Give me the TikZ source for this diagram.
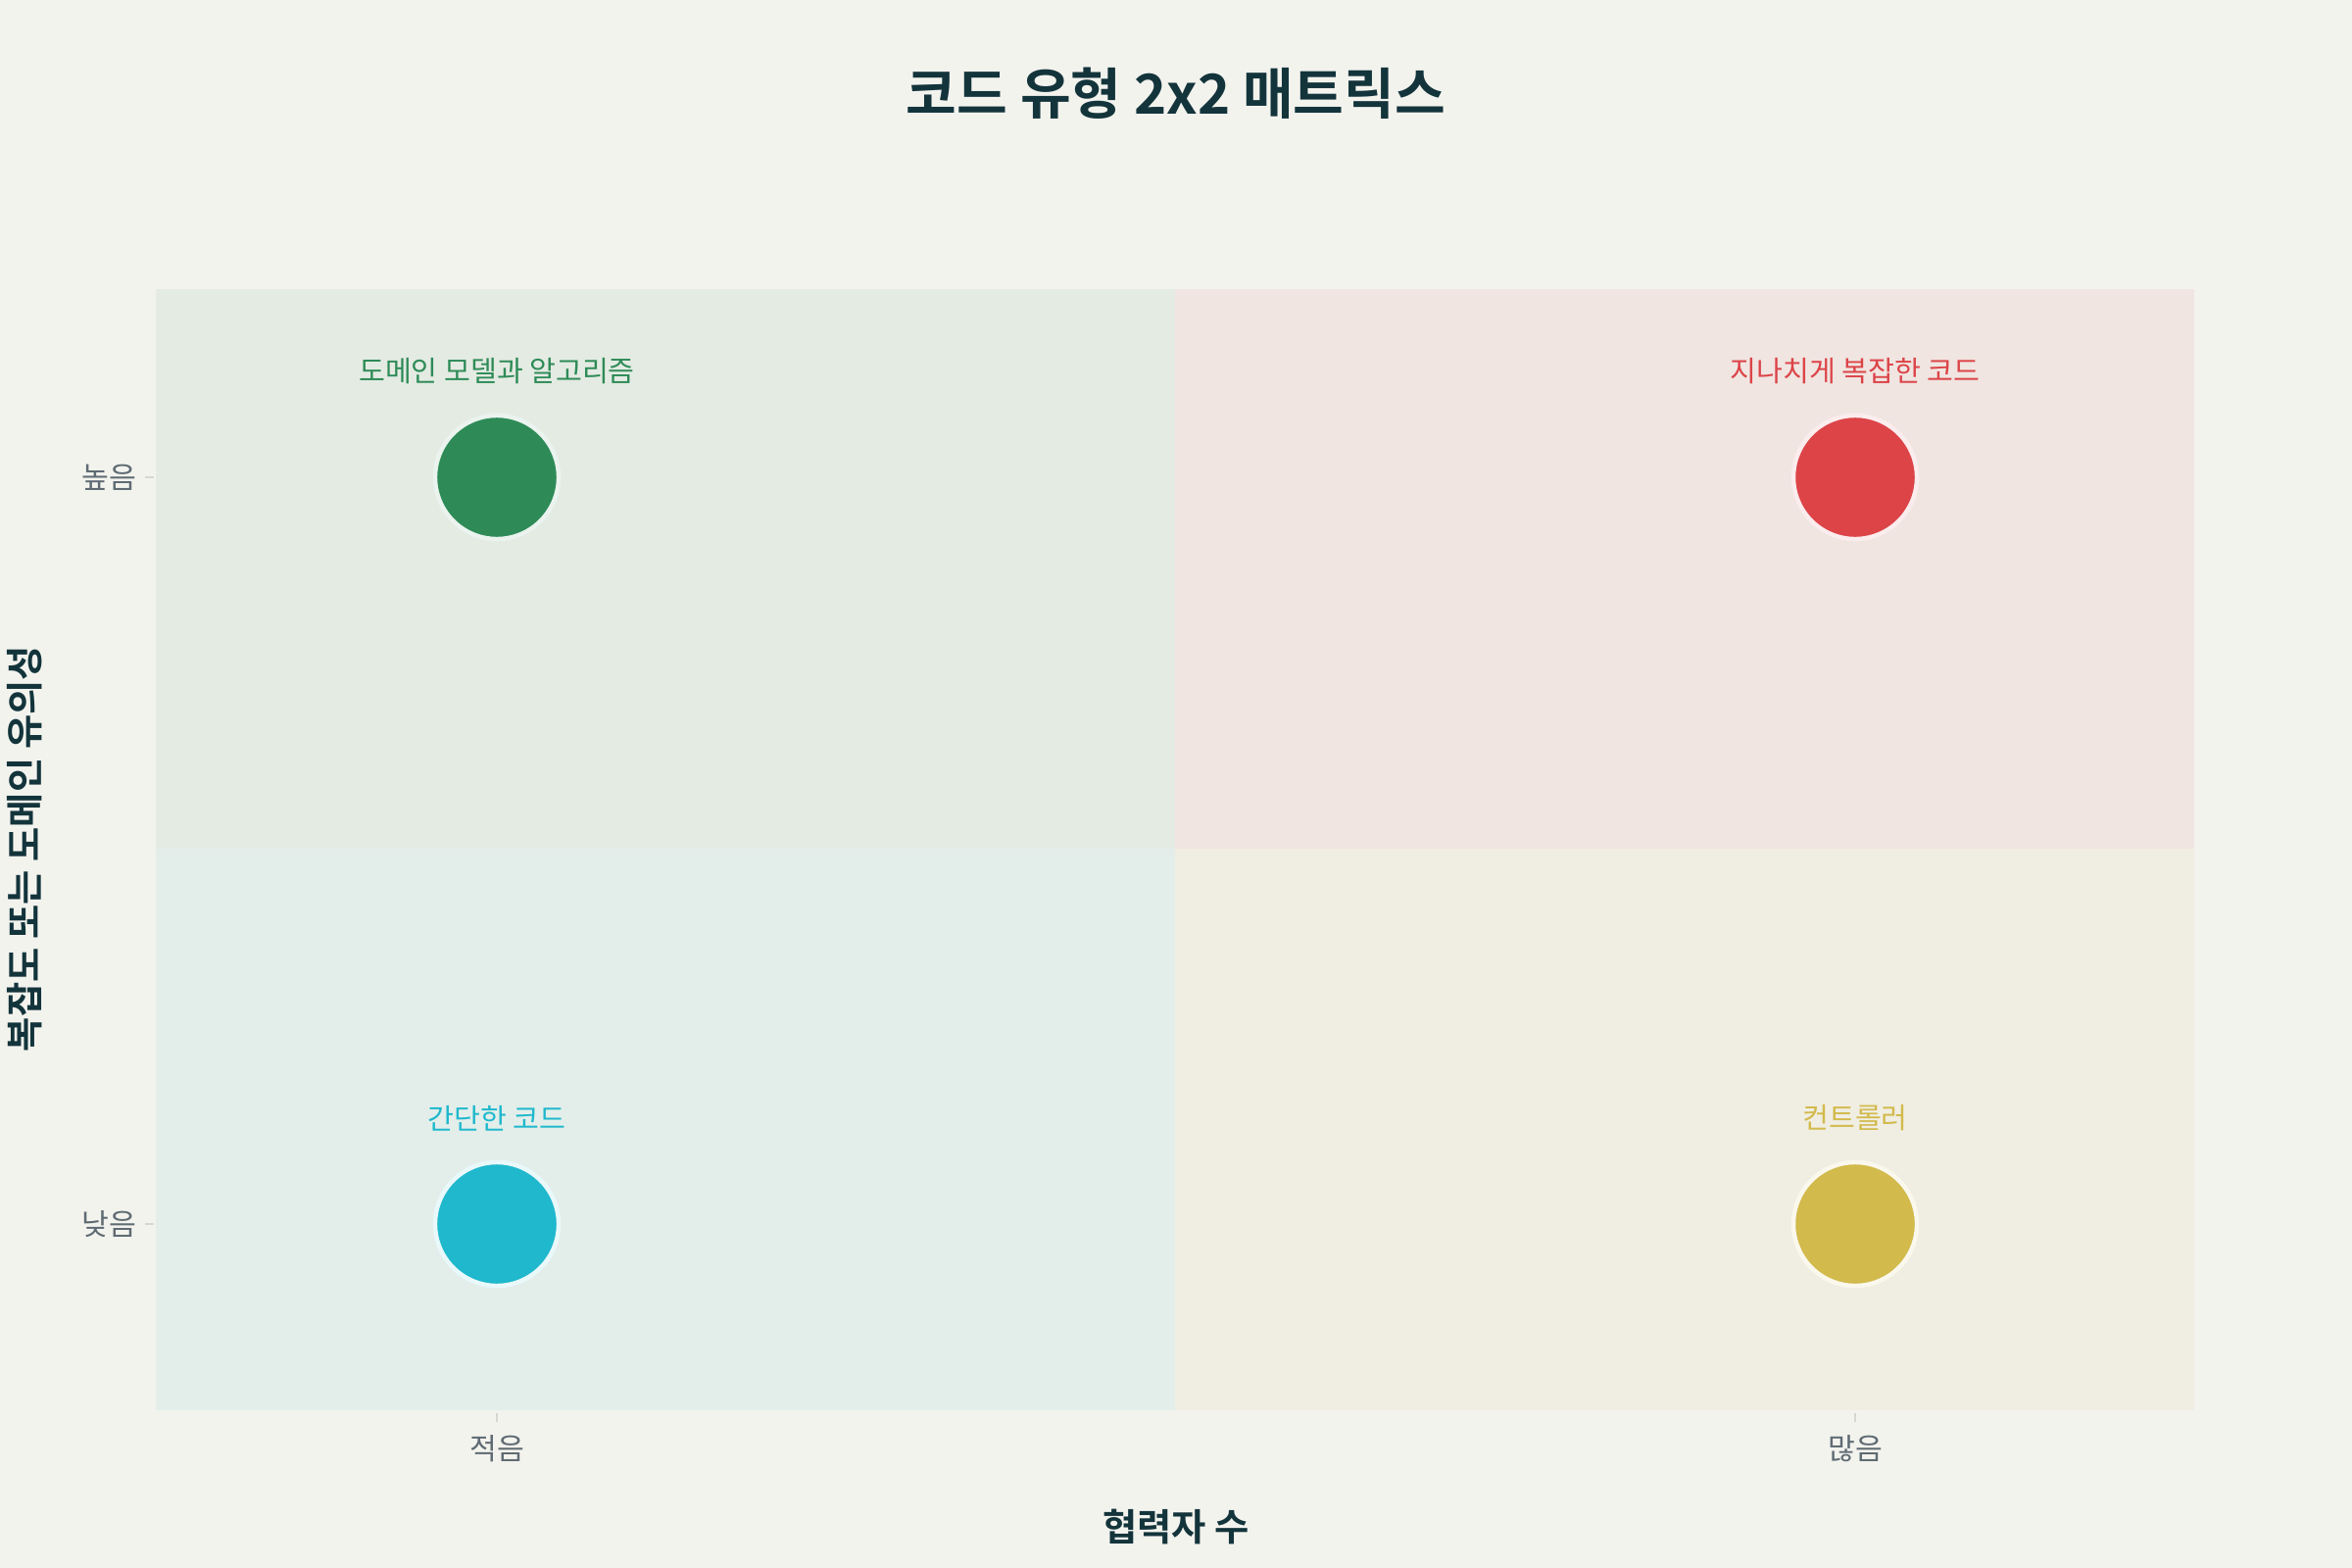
\documentclass[tikz,border=0pt]{standalone}
\usepackage{fontspec}
\setmainfont{Noto Sans CJK KR}
\newfontfamily\krbold{Noto Sans CJK KR Bold}
\begin{document}
\definecolor{bgc}{HTML}{F3F3EE}
\definecolor{qtl}{HTML}{E4EBE3}
\definecolor{qtr}{HTML}{F0E5E1}
\definecolor{qbl}{HTML}{E3EEEA}
\definecolor{qbr}{HTML}{F0EEE2}
\definecolor{ttl}{HTML}{13343B}
\definecolor{tickc}{HTML}{5F6B73}
\definecolor{tickl}{HTML}{D8D6D0}
\definecolor{cgreen}{HTML}{2E8B57}
\definecolor{cred}{HTML}{DC4448}
\definecolor{ccyan}{HTML}{1FB8CD}
\definecolor{cgold}{HTML}{D2BA4C}
\begin{tikzpicture}[x=0.01cm,y=-0.01cm,
  dot/.style={circle,minimum size=1.26cm,inner sep=0pt,draw=white!90!#1,line width=0.045cm,fill=#1},
  lbl/.style={font=\fontsize{8.3}{10}\selectfont,text=#1},
  ticklbl/.style={font=\fontsize{8.6}{10}\selectfont,text=tickc},
  axtitle/.style={font=\krbold\fontsize{10.9}{13}\selectfont,text=ttl},
  tickmark/.style={draw=tickl,line width=0.02cm}]
\useasboundingbox (0,0) rectangle (2400,1600);
\fill[bgc] (0,0) rectangle (2400,1600);
\fill[qtl] (159,295) rectangle (1199,866);
\fill[qtr] (1199,295) rectangle (2239,866);
\fill[qbl] (159,866) rectangle (1199,1439);
\fill[qbr] (1199,866) rectangle (2239,1439);
% title
\node[font=\krbold\fontsize{16}{19}\selectfont,text=ttl] (title) at (1200,95) {코드 유형 2x2 매트릭스};
% ticks
\coordinate (yt1a) at (148,487); \coordinate (yt1b) at (157,487);
\coordinate (yt2a) at (148,1249); \coordinate (yt2b) at (157,1249);
\coordinate (xt1a) at (507,1442); \coordinate (xt1b) at (507,1451);
\coordinate (xt2a) at (1893,1442); \coordinate (xt2b) at (1893,1451);
\draw[tickmark] (yt1a) -- (yt1b);
\draw[tickmark] (yt2a) -- (yt2b);
\draw[tickmark] (xt1a) -- (xt1b);
\draw[tickmark] (xt2a) -- (xt2b);
\node[ticklbl] (hi) at (111,487) {높음};
\node[ticklbl] (lo) at (111,1249) {낮음};
\node[ticklbl] (few) at (507,1478) {적음};
\node[ticklbl] (many) at (1893,1478) {많음};
\node[axtitle] (xtitle) at (1200,1558) {협력자 수};
\node[axtitle,rotate=90] (ytitle) at (25,866) {복잡도 또는 도메인 유의성};
% points
\node[dot=cgreen] (p1) at (507,487) {};
\node[dot=cred] (p2) at (1893,487) {};
\node[dot=ccyan] (p3) at (507,1249) {};
\node[dot=cgold] (p4) at (1893,1249) {};
\node[lbl=cgreen] (l1) at (507,379) {도메인 모델과 알고리즘};
\node[lbl=cred] (l2) at (1893,379) {지나치게 복잡한 코드};
\node[lbl=ccyan] (l3) at (507,1141) {간단한 코드};
\node[lbl=cgold] (l4) at (1893,1141) {컨트롤러};
\end{tikzpicture}
\end{document}
